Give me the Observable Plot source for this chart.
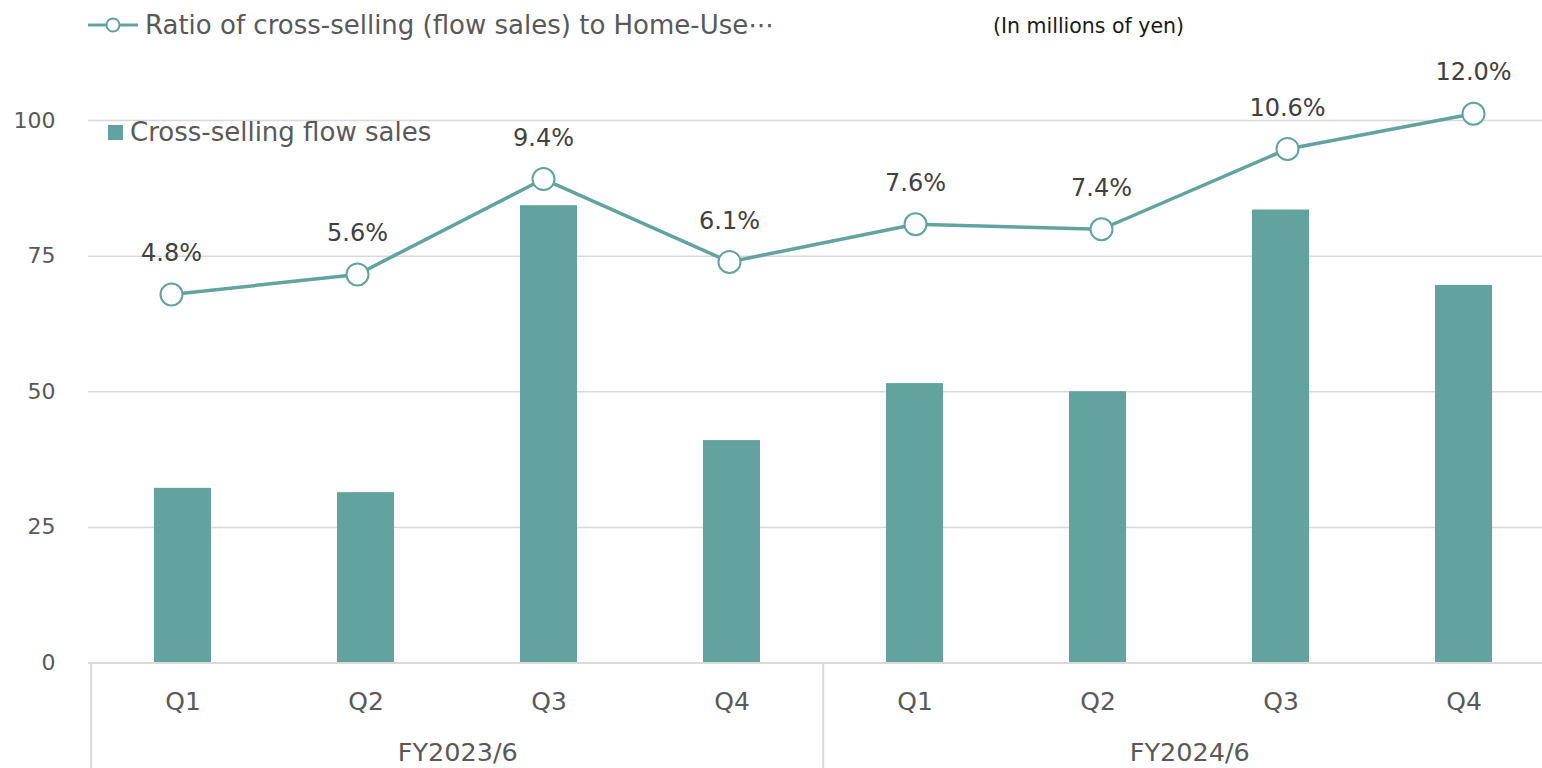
<!DOCTYPE html>
<html>
<head>
<meta charset="utf-8">
<script src="https://cdn.jsdelivr.net/npm/d3@7"></script>
<script src="https://cdn.jsdelivr.net/npm/@observablehq/plot@0.6"></script>
<style>
  html, body { margin: 0; padding: 0; background: #fff; overflow: hidden; }
  #chart { position: relative; width: 1542px; height: 768px; overflow: hidden; font-family: "DejaVu Sans", sans-serif; }
  #chart svg.plot-layer { position: absolute; left: 0; top: 0; }
  .legend { position: absolute; color: #595959; white-space: nowrap; line-height: 1; }
</style>
</head>
<body>
<div id="chart"></div>
<script>
// ---- data ----
const fiscalYears = ["FY2023/6", "FY2024/6"];
const quarters = ["Q1", "Q2", "Q3", "Q4"];
const flowSales = [32.2, 31.4, 84.3, 41.0, 51.5, 50.0, 83.5, 69.6];   // millions of yen
const ratioPct = [4.8, 5.6, 9.4, 6.1, 7.6, 7.4, 10.6, 12.0];          // %
const yTicks = [0, 25, 50, 75, 100];
const barLegendLabel = "Cross-selling flow sales";
const lineLegendLabel = "Ratio of cross-selling (flow sales) to Home-Use\u22EF";
const unitNote = "(In millions of yen)";

const teal = "#62A39F";
const font = "DejaVu Sans, sans-serif";

const rows = [];
fiscalYears.forEach((fy, i) => quarters.forEach((q, j) => {
  const k = i * 4 + j;
  rows.push({key: fy + " " + q, fy, q, sales: flowSales[k], ratio: ratioPct[k]});
}));
const keys = rows.map(d => d.key);
const groupStarts = fiscalYears.map(fy => fy + " Q1");

const W = 1542, H = 768;
const xRange = [88, 1557];
const step = (xRange[1] - xRange[0]) / keys.length;

// ---- bars & axes ----
const barPlot = Plot.plot({
  width: W, height: H,
  marginLeft: 88, marginRight: 0, marginTop: 0, marginBottom: 0,
  style: {fontFamily: font, background: "transparent", overflow: "hidden"},
  x: {type: "band", domain: keys, range: xRange, paddingInner: 0.69, paddingOuter: 0.345, axis: null},
  y: {domain: [0, 100], range: [662.5, 120], axis: null},
  marks: [
    Plot.ruleY(yTicks.slice(1), {stroke: "#D9D9D9", strokeWidth: 1.5}),
    Plot.barY(rows, {x: "key", y: "sales", fill: teal}),
    Plot.ruleY([0], {stroke: "#D9D9D9", strokeWidth: 2}),
    Plot.ruleX(groupStarts, {x: d => d, y1: 0, y2: -22, dx: -step / 2, stroke: "#D9D9D9", strokeWidth: 2}),
    Plot.axisY({ticks: yTicks, tickSize: 0, tickPadding: 33, fontSize: 22, color: "#595959", label: null, tickFormat: d => d}),
    Plot.text(rows, {x: "key", y: 0, dy: 39, text: "q", fontSize: 25, fill: "#595959"}),
    Plot.text(fiscalYears, {x: d => d + " Q2", y: 0, dy: 90, dx: step / 2, text: d => d, fontSize: 25.5, fill: "#595959"})
  ]
});
barPlot.classList.add("plot-layer");

// ---- ratio line (secondary axes, hidden) ----
const linePlot = Plot.plot({
  width: W, height: H,
  margin: 0,
  style: {fontFamily: font, background: "transparent", overflow: "hidden"},
  x: {type: "point", domain: keys, range: [169, 1475], padding: 0, axis: null},
  y: {domain: [0, 12], range: [414.5, 113.3], axis: null},
  marks: [
    Plot.line(rows, {x: "key", y: "ratio", stroke: teal, strokeWidth: 3.5}),
    Plot.dot(rows, {x: "key", y: "ratio", r: 11, fill: "white", stroke: teal, strokeWidth: 2}),
    Plot.text(rows, {x: "key", y: "ratio", dy: -41, text: d => d.ratio.toFixed(1) + "%", fontSize: 24, fill: "#404040"})
  ]
});
linePlot.classList.add("plot-layer");

const chart = document.getElementById("chart");
chart.appendChild(barPlot);
chart.appendChild(linePlot);

// ---- legends & note ----
const lineLeg = document.createElement("div");
lineLeg.className = "legend";
lineLeg.style.cssText = "left:88px;top:12px;font-size:26px;display:flex;align-items:center;";
lineLeg.innerHTML = `<svg width="54" height="26" style="margin-right:3px"><line x1="0" x2="50" y1="13" y2="13" stroke="${teal}" stroke-width="3"/><circle cx="25" cy="13" r="6.5" fill="white" stroke="${teal}" stroke-width="2"/></svg><span>${lineLegendLabel}</span>`;
chart.appendChild(lineLeg);

const barLeg = document.createElement("div");
barLeg.className = "legend";
barLeg.style.cssText = "left:108px;top:119px;font-size:26px;display:flex;align-items:center;";
barLeg.innerHTML = `<span style="display:inline-block;width:15px;height:15px;background:${teal};margin-right:7px"></span><span>${barLegendLabel}</span>`;
chart.appendChild(barLeg);

const note = document.createElement("div");
note.className = "legend";
note.style.cssText = "left:993px;top:16px;font-size:20.5px;color:#1a1a1a;";
note.textContent = unitNote;
chart.appendChild(note);
</script>
</body>
</html>
